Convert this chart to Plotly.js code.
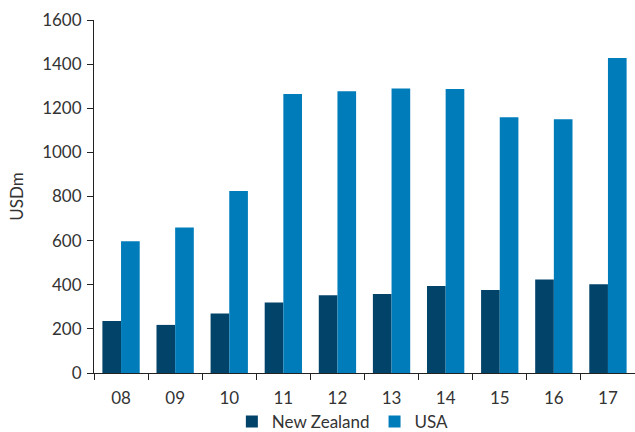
<!DOCTYPE html>
<html><head><meta charset="utf-8">
<script src="https://cdn.plot.ly/plotly-3.0.1.min.js"></script>
<style>html,body{margin:0;padding:0;background:#fff}</style>
</head><body>
<div id="chart" style="width:635px;height:432px"></div>
<script>
const years = ["08","09","10","11","12","13","14","15","16","17"];
const newZealand = [236, 218, 270, 320, 352, 358, 394, 376, 424, 402];
const usa = [597, 659, 825, 1265, 1277, 1290, 1287, 1159, 1150, 1428];
const yTicks = [0, 200, 400, 600, 800, 1000, 1200, 1400, 1600];

const font = {family: "Lato, 'DejaVu Sans', sans-serif", size: 17, color: "#333333"};

const data = [
  {type: "bar", name: "New Zealand", x: years, y: newZealand,
   marker: {color: "#02436A", line: {width: 0}}},
  {type: "bar", name: "USA", x: years, y: usa,
   marker: {color: "#007CBA", line: {width: 0}}}
];

const layout = {
  width: 635, height: 432,
  margin: {l: 94, r: 0, t: 20, b: 59, pad: 0, autoexpand: false},
  paper_bgcolor: "#fff", plot_bgcolor: "#fff",
  font: font,
  barmode: "group", bargap: 0.31, bargroupgap: 0,
  showlegend: true,
  legend: {orientation: "h", x: 0.46, xanchor: "center", y: -0.088, yanchor: "top",
           font: {family: font.family, size: 17, color: "#333333"}, itemwidth: 30, tracegroupgap: 0},
  xaxis: {type: "category", range: [-0.5, 9.5], showline: true, linecolor: "#222", linewidth: 1,
          ticks: "outside", tickson: "boundaries", ticklen: 6, tickcolor: "#222",
          showgrid: false, zeroline: false, tickfont: font, ticklabelstandoff: 10},
  yaxis: {range: [0, 1600], tickvals: yTicks, showline: true, linecolor: "#222", linewidth: 1,
          ticks: "outside", ticklen: 6, tickcolor: "#222", showgrid: false, zeroline: false,
          tickfont: font, ticklabelstandoff: 2,
          title: {text: "USDm", font: font, standoff: 14}}
};

Plotly.newPlot("chart", data, layout, {displayModeBar: false, staticPlot: true});
</script>
</body></html>
